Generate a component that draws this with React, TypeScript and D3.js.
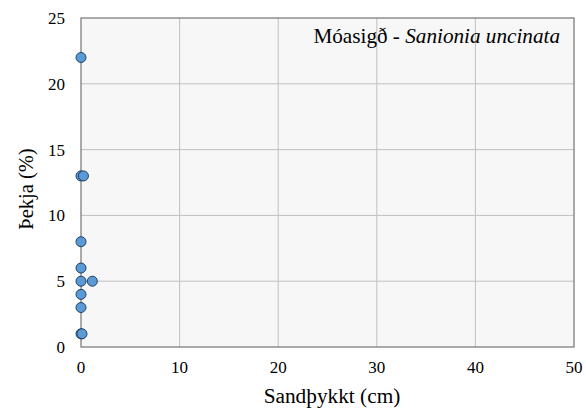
import React from "react";
import * as d3 from "d3";

const xValues = [0, 0, 0.25, 0, 0, 0, 1.15, 0, 0, 0, 0.1];
const yValues = [22, 13, 13, 8, 6, 5, 5, 4, 3, 1, 1];
const xTicks = [0, 10, 20, 30, 40, 50];
const yTicks = [0, 5, 10, 15, 20, 25];

const W = 586;
const H = 411;
const margin = { left: 81, right: 12, top: 18, bottom: 64 };
const font = "Liberation Serif";

export default function App() {
  const x = d3.scaleLinear().domain([0, 50]).range([margin.left, W - margin.right]);
  const y = d3.scaleLinear().domain([0, 25]).range([H - margin.bottom, margin.top]);
  const pts = xValues.map((v, i) => ({ x: v, y: yValues[i] }));

  return (
    <svg width={W} height={H} style={{ position: "absolute", left: 0, top: 0 }}>
      <rect x={0} y={0} width={W} height={H} fill="#ffffff" />
      <rect x={x(0)} y={y(25)} width={x(50) - x(0)} height={y(0) - y(25)} fill="#f7f7f7" />
      {xTicks.slice(1, -1).map((t) => (
        <line key={"gx" + t} x1={x(t)} x2={x(t)} y1={y(0)} y2={y(25)} stroke="#c0c0c0" strokeWidth={1} />
      ))}
      {yTicks.slice(1, -1).map((t) => (
        <line key={"gy" + t} x1={x(0)} x2={x(50)} y1={y(t)} y2={y(t)} stroke="#c0c0c0" strokeWidth={1} />
      ))}
      <rect
        x={x(0)}
        y={y(25)}
        width={x(50) - x(0)}
        height={y(0) - y(25)}
        fill="none"
        stroke="#7f7f7f"
        strokeWidth={1.3}
      />
      {xTicks.map((t) => (
        <text key={"tx" + t} x={x(t)} y={y(0) + 26} textAnchor="middle" fontSize={17} fontFamily={font} fill="#000">
          {t}
        </text>
      ))}
      {yTicks.map((t) => (
        <text key={"ty" + t} x={x(0) - 16} y={y(t) + 6} textAnchor="end" fontSize={17} fontFamily={font} fill="#000">
          {t}
        </text>
      ))}
      {pts.map((p, i) => (
        <circle key={i} cx={x(p.x)} cy={y(p.y)} r={5} fill="#5b9bd5" stroke="#1f3f66" strokeWidth={1} />
      ))}
      <text x={332} y={403} textAnchor="middle" fontSize={21.3} fontFamily={font} fill="#000">
        Sandþykkt (cm)
      </text>
      <text
        transform={`translate(33, 189) rotate(-90)`}
        textAnchor="middle"
        fontSize={20.5}
        fontFamily={font}
        fill="#000"
      >
        Þekja (%)
      </text>
      <text x={560} y={43} textAnchor="end" fontSize={21.2} fontFamily={font} fill="#000">
        Móasigð - <tspan fontStyle="italic">Sanionia uncinata</tspan>
      </text>
    </svg>
  );
}
